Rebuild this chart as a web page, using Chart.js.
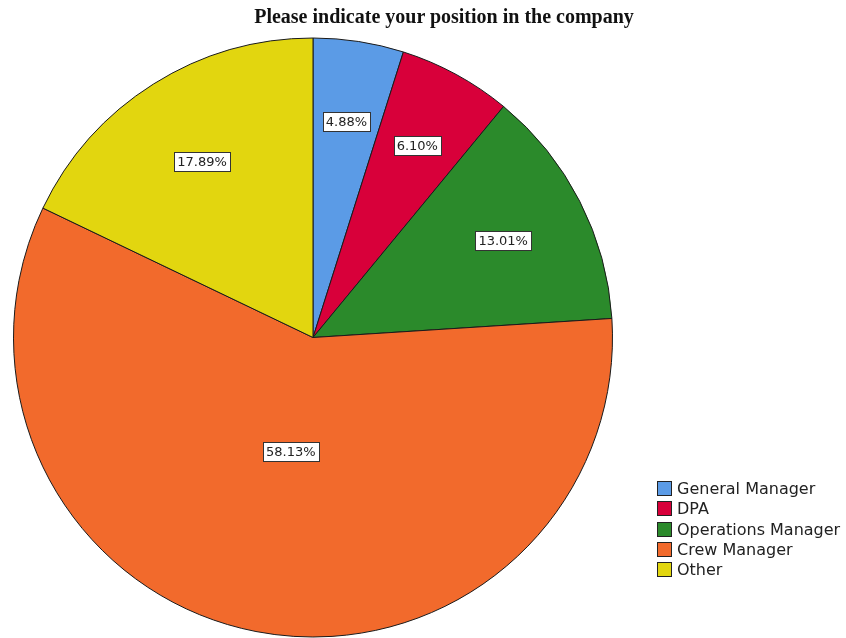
<!DOCTYPE html>
<html>
<head>
<meta charset="utf-8">
<script src="https://cdn.jsdelivr.net/npm/chart.js@4"></script>
<style>
  body { margin: 0; background: #fff; }
  #wrap { position: relative; width: 846px; height: 638px; }
  #title {
    position: absolute; left: 194px; width: 500px; top: 5px;
    text-align: center; font: bold 20px "Liberation Serif", serif; color: #111;
  }
  #legend { position: absolute; left: 657px; top: 480px; font: 16px "DejaVu Sans", sans-serif; color: #222; }
  #legend div { height: 20.3px; line-height: 18px; white-space: nowrap; }
  #legend span {
    display: inline-block; width: 15px; height: 15px; border: 1px solid #222;
    vertical-align: -2px; margin-right: 5px; box-sizing: border-box;
  }
</style>
</head>
<body>
<div id="wrap">
  <canvas id="chart"></canvas>
  <div id="title">Please indicate your position in the company</div>
  <div id="legend"></div>
</div>
<script>
const labels = ["General Manager", "DPA", "Operations Manager", "Crew Manager", "Other"]
const percents = [4.88, 6.10, 13.01, 58.13, 17.89]
const colors = ["#5b9be6", "#d8003a", "#2b8a2b", "#f26a2c", "#e2d60f"]

// white value boxes inside each slice
const sliceLabels = {
    id: "sliceLabels",
    afterDatasetsDraw(chart) {
        const ctx = chart.ctx
        const arcs = chart.getDatasetMeta(0).data
        ctx.save()
        ctx.font = "13px 'DejaVu Sans', sans-serif"
        ctx.textAlign = "center"
        ctx.textBaseline = "middle"
        arcs.forEach((arc, i) => {
            const {x, y, startAngle, endAngle, outerRadius} = arc.getProps(["x", "y", "startAngle", "endAngle", "outerRadius"], true)
            const half = (endAngle - startAngle) / 2
            const mid = startAngle + half
            const dist = 2 * outerRadius * Math.sin(half) / (3 * half) * 1.1
            const cx = x + Math.cos(mid) * dist
            const cy = y + Math.sin(mid) * dist
            const text = percents[i].toFixed(2) + "%"
            const w = Math.round(ctx.measureText(text).width + 6)
            const h = 19
            const bx = Math.round(cx - w / 2) + 0.5
            const by = Math.round(cy - h / 2) + 0.5
            ctx.fillStyle = "#fff"
            ctx.fillRect(bx, by, w, h)
            ctx.strokeStyle = "#333"
            ctx.lineWidth = 1
            ctx.strokeRect(bx, by, w, h)
            ctx.fillStyle = "#222"
            ctx.fillText(text, cx, cy + 1)
        })
        ctx.restore()
    }
}

const legend = document.querySelector("#legend")
labels.forEach((name, i) => {
    const row = document.createElement("div")
    row.innerHTML = `<span style="background:${colors[i]}"></span>${name}`
    legend.appendChild(row)
})

new Chart(document.querySelector("#chart"), {
    type: "pie",
    data: {
        labels: labels,
        datasets: [{
            data: percents,
            backgroundColor: colors,
            borderColor: "#1a1a1a",
            borderWidth: 1
        }]
    },
    options: {
        responsive: true,
        maintainAspectRatio: false,
        animation: false,
        layout: { padding: { left: 13, right: 233, top: 37, bottom: 0 } },
        plugins: {
            legend: { display: false },
            title: { display: false },
            tooltip: { enabled: false }
        }
    },
    plugins: [sliceLabels]
})
</script>
</body>
</html>
